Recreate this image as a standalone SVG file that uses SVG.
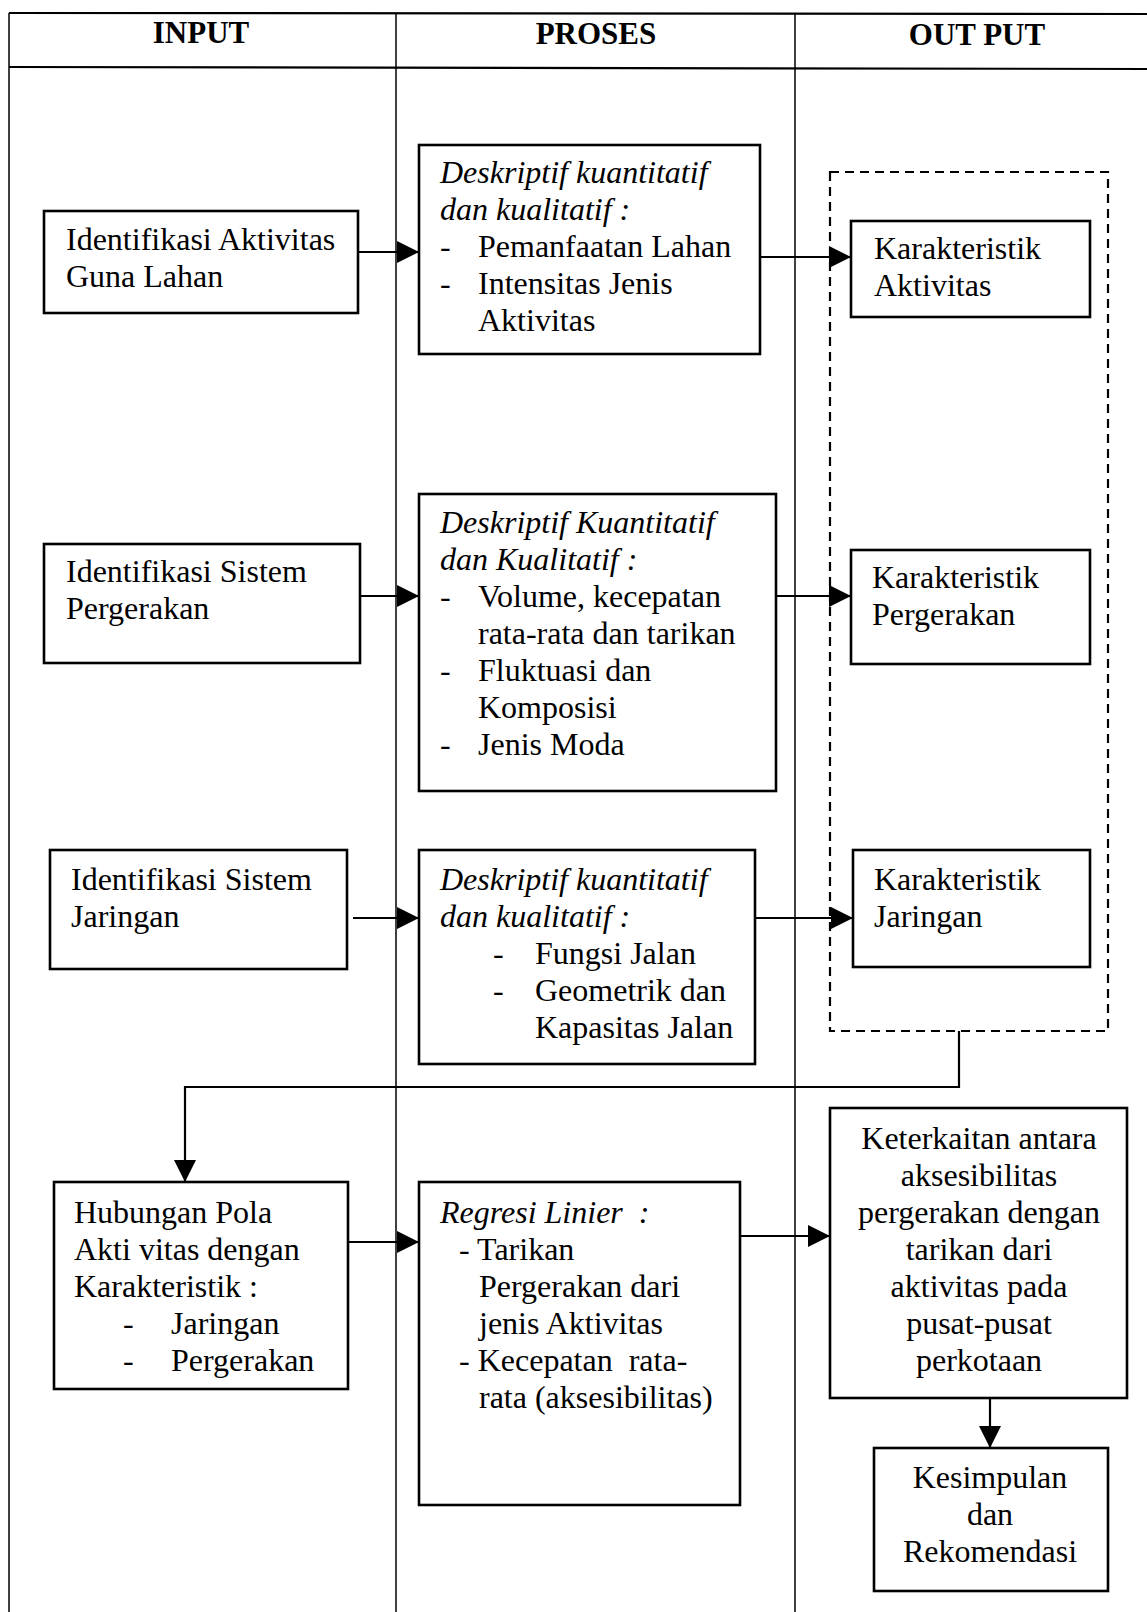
<svg xmlns="http://www.w3.org/2000/svg" width="1147" height="1612" viewBox="0 0 1147 1612">
<style>
  .t { font-family: "Liberation Serif", "Times New Roman", serif; font-size: 32px; fill: #000; }
  .i { font-style: italic; }
  .h { font-family: "Liberation Serif", "Times New Roman", serif; font-size: 31px; font-weight: bold; fill: #000; }
  .box { fill: #fff; stroke: #000; stroke-width: 2.6; }
  .grid { fill: none; stroke: #000; stroke-width: 1.5; }
  .grid2 { fill: none; stroke: #000; stroke-width: 2.2; }
  .conn { fill: none; stroke: #000; stroke-width: 2.2; }
  .dash { fill: none; stroke: #000; stroke-width: 2.2; stroke-dasharray: 9 6; }
</style>
<defs>
  <marker id="arr" viewBox="0 0 22 22" refX="22" refY="11" markerWidth="22" markerHeight="22" markerUnits="userSpaceOnUse" orient="auto">
    <path d="M0,0 L22,11 L0,22 Z" fill="#000"/>
  </marker>
</defs>
<rect width="1147" height="1612" fill="#fff"/>
<g id="table">
  <line class="grid2" x1="9" y1="13" x2="1147" y2="14"/>
  <line class="grid2" x1="9" y1="67" x2="1147" y2="69"/>
  <line class="grid" x1="9" y1="13" x2="9" y2="1612"/>
  <line class="grid" x1="396" y1="13" x2="396" y2="1612"/>
  <line class="grid" x1="795" y1="13" x2="795" y2="1612"/>
  <text class="h" x="201" y="43" text-anchor="middle">INPUT</text>
  <text class="h" x="596" y="44" text-anchor="middle">PROSES</text>
  <text class="h" x="977" y="45" text-anchor="middle">OUT PUT</text>
</g>
<g id="output-group">
  <rect class="dash" x="830" y="172" width="278" height="859"/>
</g>
<g id="connectors">
  <line class="conn" x1="358" y1="252" x2="419" y2="252" marker-end="url(#arr)"/>
  <line class="conn" x1="760" y1="257" x2="851" y2="257" marker-end="url(#arr)"/>
  <line class="conn" x1="355" y1="596" x2="419" y2="596" marker-end="url(#arr)"/>
  <line class="conn" x1="776" y1="596" x2="851" y2="596" marker-end="url(#arr)"/>
  <line class="conn" x1="353" y1="918" x2="419" y2="918" marker-end="url(#arr)"/>
  <line class="conn" x1="755" y1="918" x2="853" y2="918" marker-end="url(#arr)"/>
  <polyline class="conn" points="959,1031 959,1087 185,1087 185,1182" marker-end="url(#arr)"/>
  <line class="conn" x1="348" y1="1242" x2="419" y2="1242" marker-end="url(#arr)"/>
  <line class="conn" x1="740" y1="1236" x2="830" y2="1236" marker-end="url(#arr)"/>
  <line class="conn" x1="990" y1="1398" x2="990" y2="1448" marker-end="url(#arr)"/>
</g>
<g id="input-aktivitas">
  <rect class="box" x="44" y="211" width="314" height="102"/>
  <text class="t" x="66" y="250">Identifikasi Aktivitas</text>
  <text class="t" x="66" y="287">Guna Lahan</text>
</g>
<g id="proses-aktivitas">
  <rect class="box" x="419" y="145" width="341" height="209"/>
  <text class="t i" x="440" y="183">Deskriptif kuantitatif</text>
  <text class="t i" x="440" y="220">dan kualitatif :</text>
  <text class="t" x="440" y="257">-</text>
  <text class="t" x="478" y="257">Pemanfaatan Lahan</text>
  <text class="t" x="440" y="294">-</text>
  <text class="t" x="478" y="294">Intensitas Jenis</text>
  <text class="t" x="478" y="331">Aktivitas</text>
</g>
<g id="output-aktivitas">
  <rect class="box" x="851" y="221" width="239" height="96"/>
  <text class="t" x="874" y="259">Karakteristik</text>
  <text class="t" x="874" y="296">Aktivitas</text>
</g>
<g id="input-pergerakan">
  <rect class="box" x="44" y="544" width="316" height="119"/>
  <text class="t" x="66" y="582">Identifikasi Sistem</text>
  <text class="t" x="66" y="619">Pergerakan</text>
</g>
<g id="proses-pergerakan">
  <rect class="box" x="419" y="494" width="357" height="297"/>
  <text class="t i" x="440" y="533">Deskriptif Kuantitatif</text>
  <text class="t i" x="440" y="570">dan Kualitatif :</text>
  <text class="t" x="440" y="607">-</text>
  <text class="t" x="478" y="607">Volume, kecepatan</text>
  <text class="t" x="478" y="644">rata-rata dan tarikan</text>
  <text class="t" x="440" y="681">-</text>
  <text class="t" x="478" y="681">Fluktuasi dan</text>
  <text class="t" x="478" y="718">Komposisi</text>
  <text class="t" x="440" y="755">-</text>
  <text class="t" x="478" y="755">Jenis Moda</text>
</g>
<g id="output-pergerakan">
  <rect class="box" x="851" y="550" width="239" height="114"/>
  <text class="t" x="872" y="588">Karakteristik</text>
  <text class="t" x="872" y="625">Pergerakan</text>
</g>
<g id="input-jaringan">
  <rect class="box" x="50" y="850" width="297" height="119"/>
  <text class="t" x="71" y="890">Identifikasi Sistem</text>
  <text class="t" x="71" y="927">Jaringan</text>
</g>
<g id="proses-jaringan">
  <rect class="box" x="419" y="850" width="336" height="214"/>
  <text class="t i" x="440" y="890">Deskriptif kuantitatif</text>
  <text class="t i" x="440" y="927">dan kualitatif :</text>
  <text class="t" x="493" y="964">-</text>
  <text class="t" x="535" y="964">Fungsi Jalan</text>
  <text class="t" x="493" y="1001">-</text>
  <text class="t" x="535" y="1001">Geometrik dan</text>
  <text class="t" x="535" y="1038">Kapasitas Jalan</text>
</g>
<g id="output-jaringan">
  <rect class="box" x="853" y="850" width="237" height="117"/>
  <text class="t" x="874" y="890">Karakteristik</text>
  <text class="t" x="874" y="927">Jaringan</text>
</g>
<g id="input-hubungan">
  <rect class="box" x="54" y="1182" width="294" height="207"/>
  <text class="t" x="74" y="1223">Hubungan Pola</text>
  <text class="t" x="74" y="1260">Akti vitas dengan</text>
  <text class="t" x="74" y="1297">Karakteristik :</text>
  <text class="t" x="123" y="1334">-</text>
  <text class="t" x="171" y="1334">Jaringan</text>
  <text class="t" x="123" y="1371">-</text>
  <text class="t" x="171" y="1371">Pergerakan</text>
</g>
<g id="proses-regresi">
  <rect class="box" x="419" y="1182" width="321" height="323"/>
  <text class="t i" x="440" y="1223" xml:space="preserve">Regresi Linier  :</text>
  <text class="t" x="459" y="1260">- Tarikan</text>
  <text class="t" x="479" y="1297">Pergerakan dari</text>
  <text class="t" x="479" y="1334">jenis Aktivitas</text>
  <text class="t" x="459" y="1371" xml:space="preserve">- Kecepatan  rata-</text>
  <text class="t" x="479" y="1408">rata (aksesibilitas)</text>
</g>
<g id="output-keterkaitan">
  <rect class="box" x="830" y="1108" width="297" height="290"/>
  <text class="t" x="979" y="1149" text-anchor="middle">Keterkaitan antara</text>
  <text class="t" x="979" y="1186" text-anchor="middle">aksesibilitas</text>
  <text class="t" x="979" y="1223" text-anchor="middle">pergerakan dengan</text>
  <text class="t" x="979" y="1260" text-anchor="middle">tarikan dari</text>
  <text class="t" x="979" y="1297" text-anchor="middle">aktivitas pada</text>
  <text class="t" x="979" y="1334" text-anchor="middle">pusat-pusat</text>
  <text class="t" x="979" y="1371" text-anchor="middle">perkotaan</text>
</g>
<g id="output-kesimpulan">
  <rect class="box" x="874" y="1448" width="234" height="143"/>
  <text class="t" x="990" y="1488" text-anchor="middle">Kesimpulan</text>
  <text class="t" x="990" y="1525" text-anchor="middle">dan</text>
  <text class="t" x="990" y="1562" text-anchor="middle">Rekomendasi</text>
</g>
</svg>
